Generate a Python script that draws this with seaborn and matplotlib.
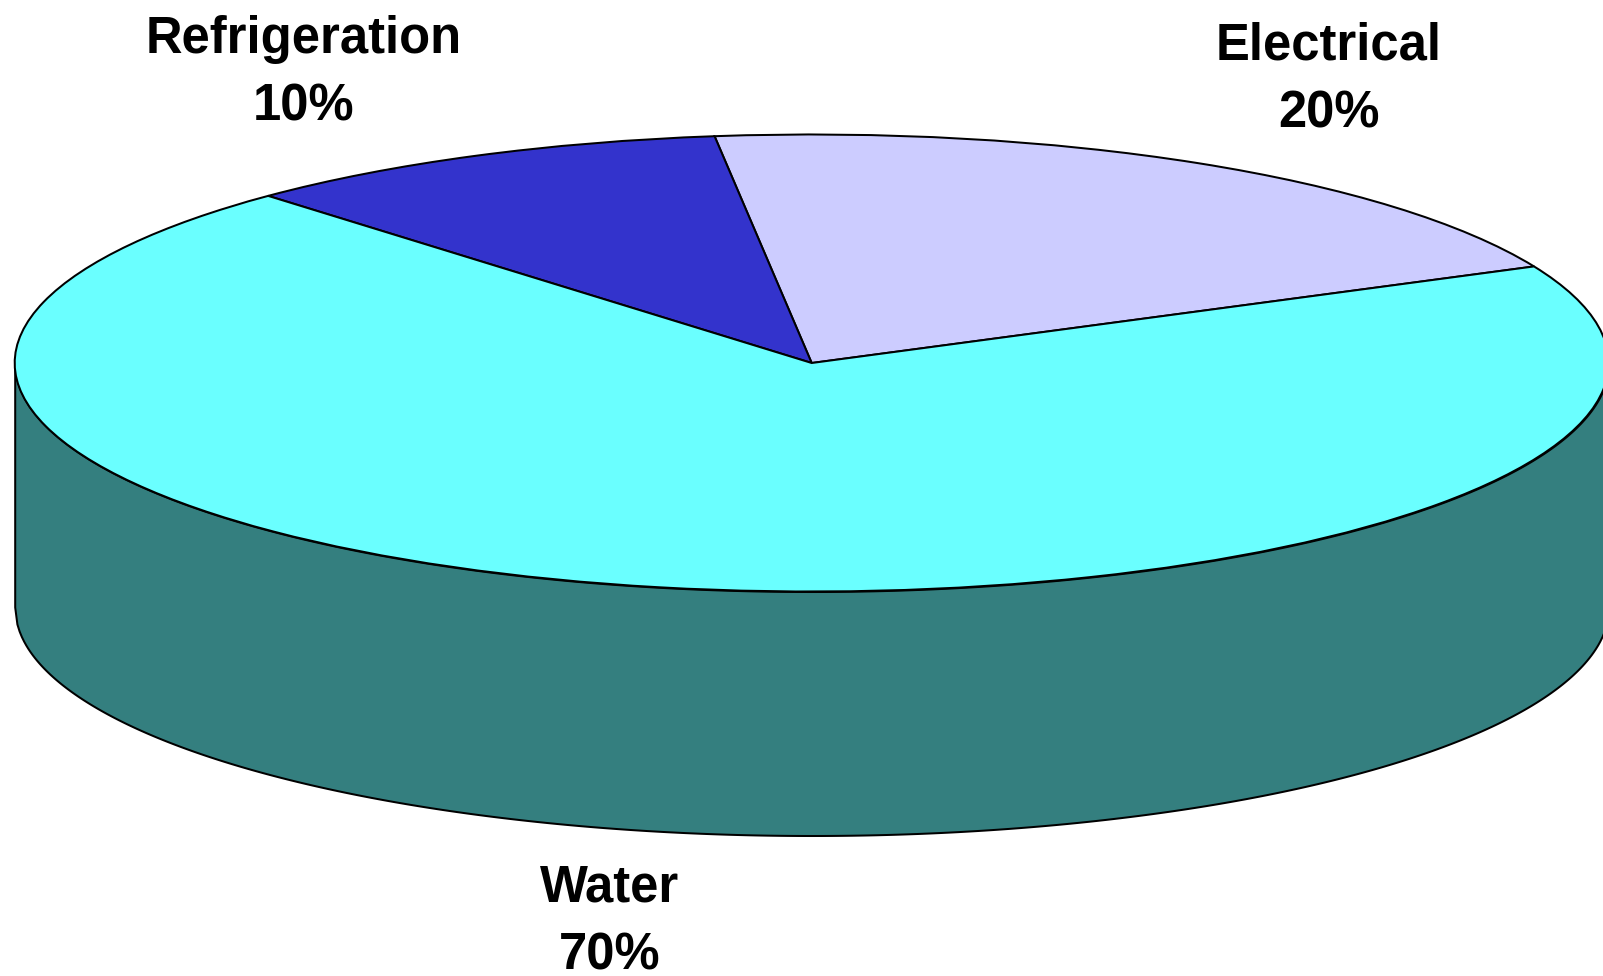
import numpy as np
import matplotlib
matplotlib.use("Agg")
import matplotlib.pyplot as plt
import seaborn as sns

# Share of load by category
categories = ["Electrical", "Refrigeration", "Water"]
shares = [20, 10, 70]
top_colors = ["#CCCCFF", "#3333CC", "#6AFFFF"]
side_color = "#347F7F"

sns.set_theme(style="white")
plt.rcParams["font.family"] = ["Liberation Sans", "DejaVu Sans"]

W, H = 1603, 976
fig = plt.figure(figsize=(W / 100, H / 100), dpi=100)
ax = fig.add_axes([0, 0, 1, 1])

# Disc geometry in pixels: the pie's unit circle is squashed into an ellipse
cx, cy, rx, ry, depth_px = 811.7, 363.0, 797.0, 228.5, 244.0
depth = depth_px / ry
outline = dict(edgecolor="black", linewidth=1.45)

# Cylinder wall, drawn first so the top face covers its upper edge
xs = np.linspace(-1, 1, 721)
lower = -np.sqrt(1 - xs ** 2)
ax.fill_between(xs, lower, lower - depth, facecolor=side_color, zorder=1, **outline)

wedges, _ = ax.pie(
    shares,
    colors=sns.color_palette(top_colors),
    startangle=25,
    counterclock=True,
    radius=1,
    wedgeprops=dict(zorder=2, **outline),
)

ax.set_aspect("auto")
ax.set_xlim(-cx / rx, (W - cx) / rx)
ax.set_ylim(-(H - cy) / ry, cy / ry)
ax.axis("off")

# Category captions, placed in figure pixels
label_centers = {"Electrical": (1329, 80.5), "Refrigeration": (304, 73), "Water": (610, 921.5)}
for name, value in zip(categories, shares):
    px, py = label_centers[name]
    fig.text(px / W, 1 - py / H, f"{name}\n{value}%", ha="center", va="center",
             fontsize=36.5, fontweight="bold", color="black", linespacing=1.5)

fig.savefig("out.png", dpi=100, facecolor="white")
